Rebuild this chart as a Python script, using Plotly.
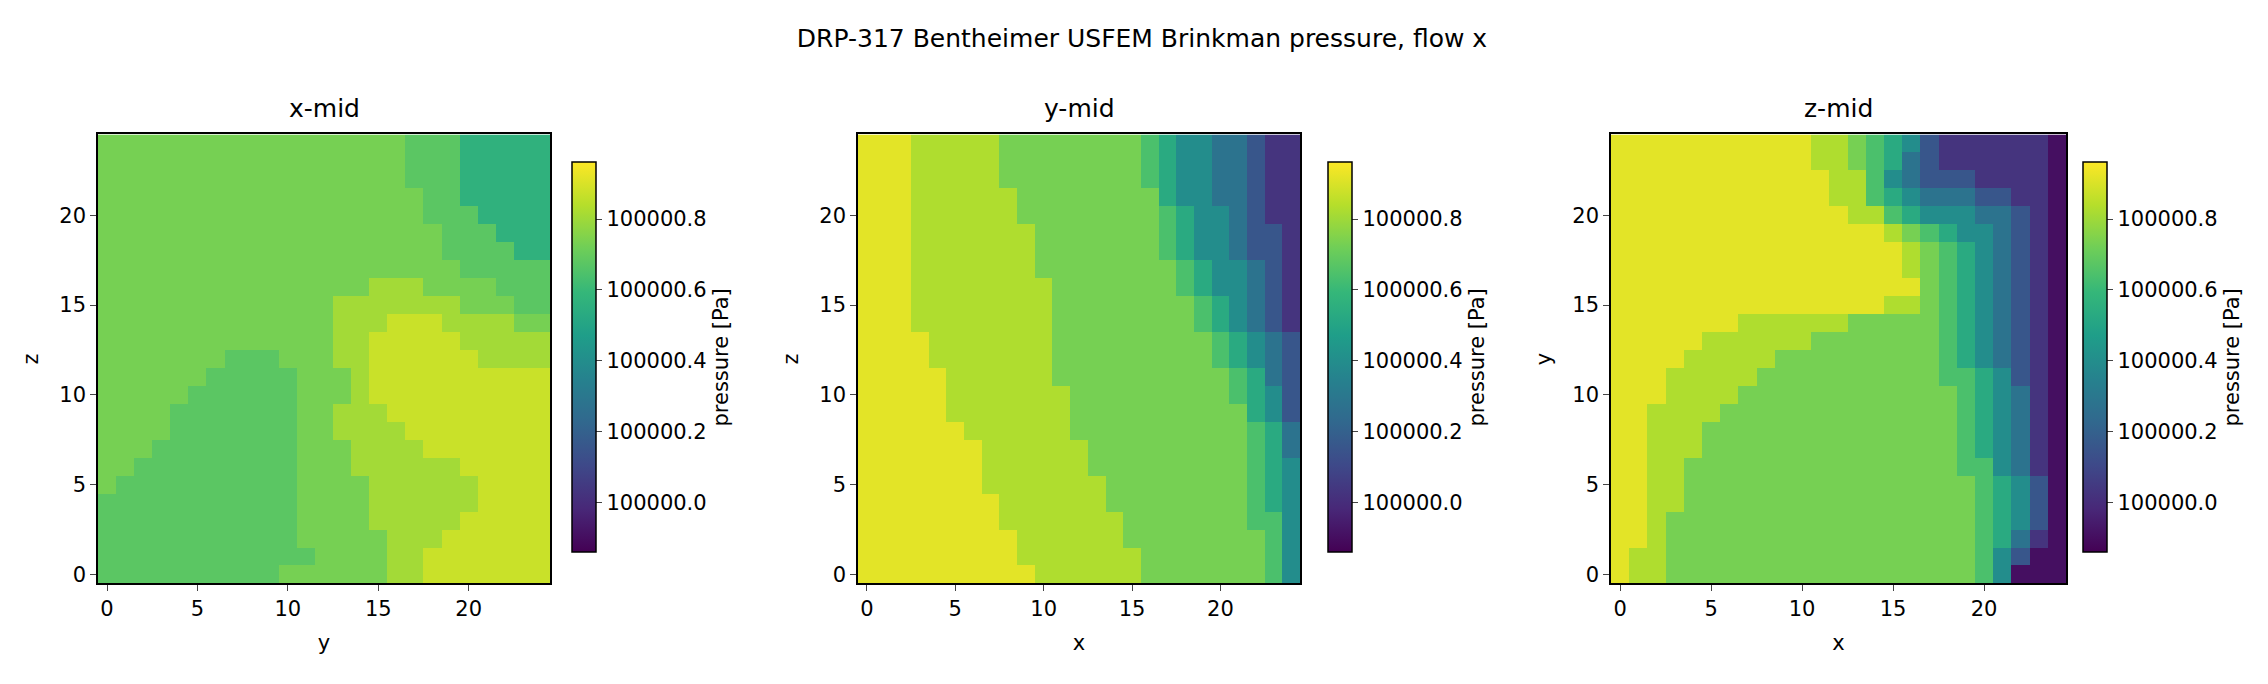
import numpy as np
import plotly.graph_objects as go

# pressure levels per cell, rows listed top (index 24) to bottom (index 0)
zmin = 99999.86
zmax = 100000.96

# digit -> fraction of colour range
level_main = [0.04, 0.15, 0.27, 0.38, 0.49, 0.61, 0.71, 0.79, 0.88, 0.96]
level_xmid = [0.04, 0.15, 0.27, 0.38, 0.49, 0.64, 0.74, 0.79, 0.86, 0.92]

xmid_rows = [
    "7777777777777777766655555",
    "7777777777777777766655555",
    "7777777777777777766655555",
    "7777777777777777776655555",
    "7777777777777777776665555",
    "7777777777777777777666555",
    "7777777777777777777666655",
    "7777777777777777777766666",
    "7777777777777778887777666",
    "7777777777777888888877766",
    "7777777777777888999888877",
    "7777777777777889999988888",
    "7777777666777889999998888",
    "7777776666677789999999999",
    "7777766666677789999999999",
    "7777666666677888999999999",
    "7777666666677888899999999",
    "7776666666677788889999999",
    "7766666666677788888899999",
    "7666666666677778888889999",
    "6666666666677778888889999",
    "6666666666677778888899999",
    "6666666666677777888999999",
    "6666666666667777889999999",
    "6666666666777777889999999",
]
ymid_rows = [
    "9998888877777777654433211",
    "9998888877777777654433211",
    "9998888877777777654433211",
    "9998888887777777754433211",
    "9998888887777777765443211",
    "9998888888777777765443221",
    "9998888888777777765443221",
    "9998888888777777776544321",
    "9998888888877777776544321",
    "9998888888877777777654321",
    "9998888888877777777654321",
    "9999888888877777777765432",
    "9999888888877777777765432",
    "9999988888877777777776532",
    "9999988888887777777776542",
    "9999988888887777777777542",
    "9999998888887777777777653",
    "9999999888888777777777653",
    "9999999888888777777777654",
    "9999999888888877777777654",
    "9999999988888877777777654",
    "9999999988888887777777664",
    "9999999998888887777777764",
    "9999999998888888777777764",
    "9999999999888888777777764",
]
zmid_rows = [
    "9999999999988765421111110",
    "9999999999988765321111110",
    "9999999999998864322211110",
    "9999999999998865433322110",
    "9999999999999886544433210",
    "9999999999999998765443210",
    "9999999999999999876543210",
    "9999999999999999876543210",
    "9999999999999999976543210",
    "9999999999999998876543210",
    "9999999888888777776543210",
    "9999988888877777776543210",
    "9999888887777777776543210",
    "9998888877777777776654210",
    "9998888777777777777654310",
    "9988887777777777777654310",
    "9988877777777777777654310",
    "9988877777777777777654310",
    "9988777777777777777664310",
    "9988777777777777777765420",
    "9988777777777777777765420",
    "9987777777777777777765420",
    "9987777777777777777765310",
    "9887777777777777777764200",
    "9887777777777777777764000",
]

titles = ["x-mid", "y-mid", "z-mid"]
xlabels = ["y", "x", "x"]
ylabels = ["z", "z", "y"]
cb_ticks = [100000.0, 100000.2, 100000.4, 100000.6, 100000.8]


def to_pressure(rows, levels):
    frac = np.array([[levels[int(c)] for c in r] for r in rows[::-1]])
    return zmin + frac * (zmax - zmin)


W, H = 2268, 684
panels = [(90, 542, 554), (850, 1292, 1310), (1603, 2058, 2065)]
font = "DejaVu Sans"
data = [(xmid_rows, level_xmid), (ymid_rows, level_main), (zmid_rows, level_main)]

fig = go.Figure()
for i, (rows, levels) in enumerate(data):
    x0, x1, cbx = panels[i]
    n = str(i + 1) if i else ""
    fig.add_trace(go.Heatmap(
        z=to_pressure(rows, levels), x=list(range(25)), y=list(range(25)),
        colorscale="Viridis", zmin=zmin, zmax=zmax,
        xaxis="x" + n, yaxis="y" + n,
        colorbar=dict(
            x=cbx / W, xanchor="left", y=0.487, yanchor="middle", len=0.602,
            thickness=24, outlinewidth=1.5, outlinecolor="black",
            tickvals=cb_ticks, ticktext=["%.1f" % v for v in cb_ticks],
            ticks="outside", ticklen=6, tickfont=dict(size=21, family=font, color="black"),
            title=dict(text="pressure [Pa]", side="right", font=dict(size=21, family=font, color="black")),
        ),
    ))
    axcommon = dict(range=[-0.5, 24.5], tickvals=[0, 5, 10, 15, 20], ticks="outside",
                    ticklen=6, showline=True, mirror=True, linecolor="black", linewidth=1.5,
                    showgrid=False, zeroline=False,
                    tickfont=dict(size=21, family=font, color="black"))
    fig.layout["xaxis" + n] = dict(axcommon, domain=[x0 / W, x1 / W], anchor="y" + n,
                                   title=dict(text=xlabels[i], font=dict(size=21, family=font, color="black")))
    fig.layout["yaxis" + n] = dict(axcommon, domain=[1 - 578 / H, 1 - 127 / H], anchor="x" + n,
                                   title=dict(text=ylabels[i], font=dict(size=21, family=font, color="black")))
    fig.add_annotation(text=titles[i], x=(x0 + x1) / 2 / W, y=1 - 118 / H, xref="paper", yref="paper",
                       xanchor="center", yanchor="bottom", showarrow=False,
                       font=dict(size=25, family=font, color="black"))

fig.update_layout(
    width=W, height=H, margin=dict(l=0, r=0, t=0, b=0),
    paper_bgcolor="white", plot_bgcolor="white",
    title=dict(text="DRP-317 Bentheimer USFEM Brinkman pressure, flow x", x=0.5, xanchor="center",
               y=1 - 30 / H, yanchor="middle", font=dict(size=25, family=font, color="black")),
)

fig.write_html("out.html")
